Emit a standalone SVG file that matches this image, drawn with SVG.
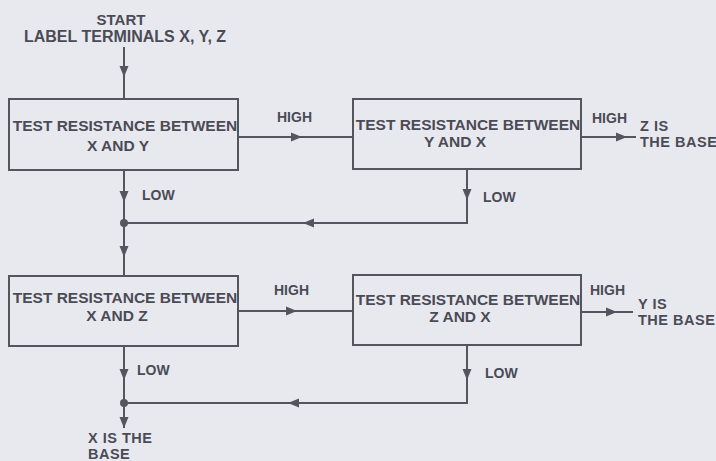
<svg xmlns="http://www.w3.org/2000/svg" width="716" height="461" viewBox="0 0 716 461">
<defs>
<style>
.bg{fill:#e8e9ef}
.box{fill:none;stroke:#55555f;stroke-width:2}
.ln{fill:none;stroke:#55555f;stroke-width:2}
text{font-family:"Liberation Sans",Arial,sans-serif;font-weight:bold;font-size:15.5px;fill:#4b4b56}
.c{text-anchor:middle}
.s{font-size:14px}
.e{font-size:14.5px;letter-spacing:0.5px}
</style>
<marker id="ah" markerUnits="userSpaceOnUse" markerWidth="12" markerHeight="10" refX="11" refY="5" orient="auto">
<path d="M0,0.5 L11,5 L0,9.5 z" fill="#55555f"/>
</marker>
</defs>
<rect class="bg" x="0" y="0" width="716" height="461"/>

<g id="start">
<text class="c" x="121" y="25" style="font-size:15px">START</text>
<text class="c" x="125" y="42" style="font-size:16px">LABEL TERMINALS X, Y, Z</text>
</g>

<g id="box1">
<rect class="box" x="9" y="99" width="229" height="71"/>
<text class="c" x="125" y="131">TEST RESISTANCE BETWEEN</text>
<text class="c" x="118" y="151">X AND Y</text>
</g>

<g id="box2">
<rect class="box" x="353" y="99" width="228" height="70"/>
<text class="c" x="468" y="130">TEST RESISTANCE BETWEEN</text>
<text class="c" x="455" y="147">Y AND X</text>
</g>

<g id="box3">
<rect class="box" x="9" y="276" width="229" height="70"/>
<text class="c" x="125" y="303">TEST RESISTANCE BETWEEN</text>
<text class="c" x="117" y="321">X AND Z</text>
</g>

<g id="box4">
<rect class="box" x="353" y="275" width="228" height="70"/>
<text class="c" x="468" y="305">TEST RESISTANCE BETWEEN</text>
<text class="c" x="460" y="322">Z AND X</text>
</g>

<g id="end-z">
<text class="e" x="640" y="131">Z IS</text>
<text class="e" x="640" y="147">THE BASE</text>
</g>
<g id="end-y">
<text class="e" x="638" y="309">Y IS</text>
<text class="e" x="638" y="325">THE BASE</text>
</g>
<g id="end-x">
<text class="e" x="88" y="443">X IS THE</text>
<text class="e" x="88" y="459">BASE</text>
</g>

<g id="connectors">
<path class="ln" d="M124,47 L124,77" marker-end="url(#ah)"/>
<path class="ln" d="M124,77 L124,99"/>

<path class="ln" d="M238,137 L302,137" marker-end="url(#ah)"/>
<path class="ln" d="M302,137 L353,137"/>

<path class="ln" d="M581,137 L627,137" marker-end="url(#ah)"/>
<path class="ln" d="M627,137 L636,137"/>

<path class="ln" d="M124,170 L124,202" marker-end="url(#ah)"/>
<path class="ln" d="M124,202 L124,257" marker-end="url(#ah)"/>
<path class="ln" d="M124,257 L124,276"/>

<path class="ln" d="M467,169 L467,200" marker-end="url(#ah)"/>
<path class="ln" d="M467,200 L467,223 L303,223" marker-end="url(#ah)"/>
<path class="ln" d="M303,223 L124,223"/>
<circle cx="124" cy="223" r="4" fill="#55555f"/>

<path class="ln" d="M238,311 L297,311" marker-end="url(#ah)"/>
<path class="ln" d="M297,311 L353,311"/>

<path class="ln" d="M581,312 L617,312" marker-end="url(#ah)"/>
<path class="ln" d="M617,312 L633,312"/>

<path class="ln" d="M124,346 L124,380" marker-end="url(#ah)"/>
<path class="ln" d="M124,380 L124,428" marker-end="url(#ah)"/>

<path class="ln" d="M467,345 L467,380" marker-end="url(#ah)"/>
<path class="ln" d="M467,380 L467,403 L288,403" marker-end="url(#ah)"/>
<path class="ln" d="M288,403 L124,403"/>
<circle cx="124" cy="403" r="4" fill="#55555f"/>

<text x="142" y="200" class="s">LOW</text>
<text x="483" y="202" class="s">LOW</text>
<text x="137" y="375" class="s">LOW</text>
<text x="485" y="378" class="s">LOW</text>
<text x="277" y="122" class="s">HIGH</text>
<text x="592" y="123" class="s">HIGH</text>
<text x="274" y="295" class="s">HIGH</text>
<text x="590" y="295" class="s">HIGH</text>
</g>
</svg>
